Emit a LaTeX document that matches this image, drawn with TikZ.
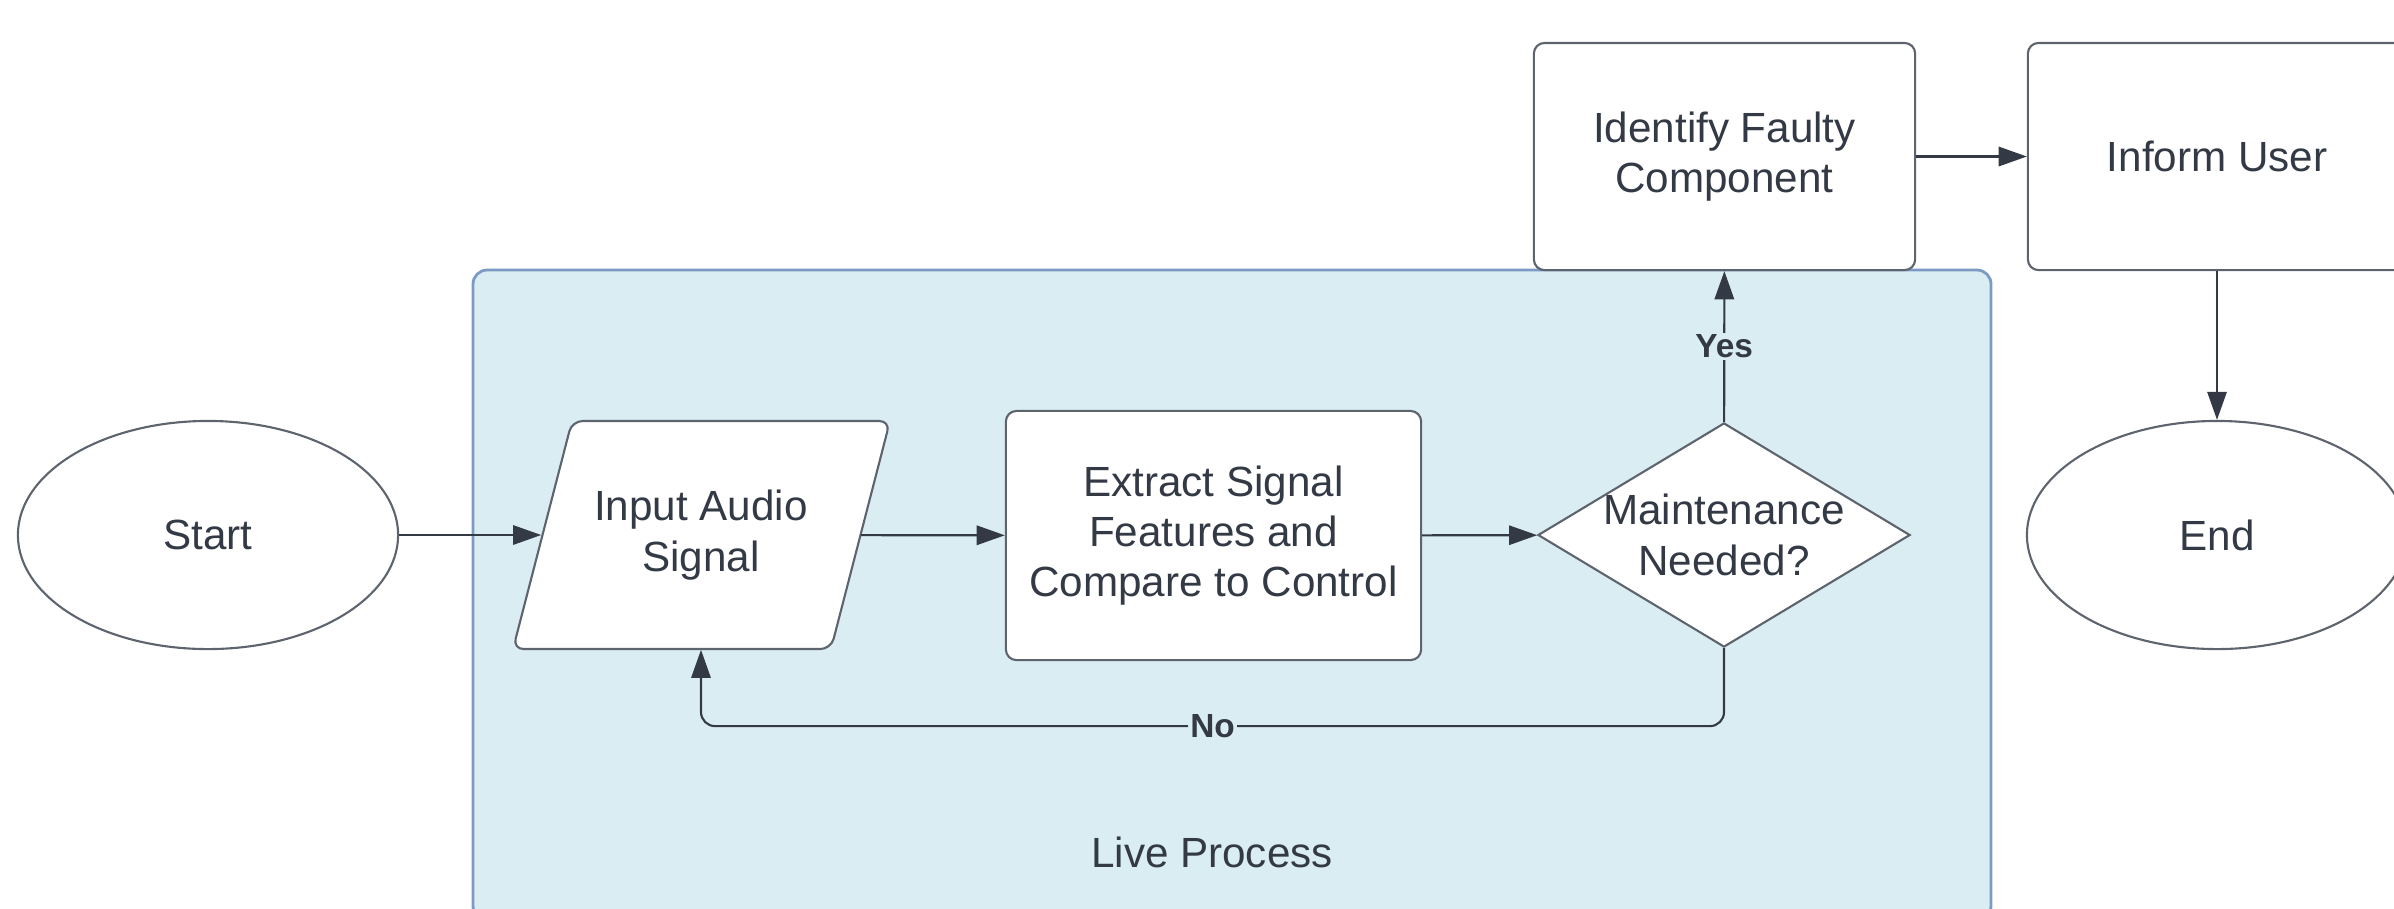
\documentclass[tikz,border=0pt]{standalone}
\usepackage{fontspec}
\setmainfont{Liberation Sans}
\usetikzlibrary{shapes.geometric,arrows.meta}
\definecolor{txt}{HTML}{333A45}
\definecolor{edge}{HTML}{5E646D}
\definecolor{livefill}{HTML}{DAEDF3}
\definecolor{liveedge}{HTML}{7B9BC4}
\begin{document}
\begin{tikzpicture}[x=0.01cm, y=-0.01cm,
    every node/.style={text=txt, font=\fontsize{12}{14.3}\selectfont, align=center},
    outline/.style={draw=edge, line width=0.6pt, fill=white},
    term/.style={outline, ellipse, inner sep=0pt, minimum width=3.8cm, minimum height=2.28cm},
    io/.style={rectangle, inner sep=0pt, minimum width=3.18cm, minimum height=2.28cm},
    proc/.style={outline, rectangle, rounded corners=3pt, inner sep=0pt},
    decide/.style={outline, diamond, aspect=1.66, inner sep=-5pt,
        minimum width=3.72cm, minimum height=2.24cm},
    arr/.style={draw=txt, line width=0.6pt, -{Triangle[length=8pt,width=5.5pt]}},
    lbl/.style={font=\fontsize{9.5}{11}\selectfont\bfseries, fill=livefill, inner sep=0.6pt}]
    \useasboundingbox (0,0) rectangle (2394,908);

    % live process frame
    \draw[draw=liveedge, fill=livefill, line width=0.8pt, rounded corners=4pt] (473,270) rectangle (1991,920);
    \node (live) at (1212,852) {Live Process};

    \node[term] (start) at (208,535) {Start};
    % slanted input box, text node on top
    \draw[outline, rounded corners=3pt] (701,535) ++(-188,114) -- ++(318,0) -- ++(59,-228) -- ++(-318,0) -- cycle;
    \node[io] (inp) at (701,535) {Input Audio\\Signal};
    \node[proc, minimum width=4.15cm, minimum height=2.49cm] (feat) at (1213.5,535.5) {Extract Signal\\Features and\\Compare to Control};
    \node[decide] (maint) at (1724,535) {Maintenance\\Needed?};
    \node[proc, minimum width=3.81cm, minimum height=2.27cm] (ident) at (1724.5,156.5) {Identify Faulty\\Component};
    \node[proc, minimum width=3.78cm, minimum height=2.27cm] (inform) at (2217,156.5) {Inform User};
    \node[term] (end) at (2217,535) {End};

    \draw[arr] (start) -- (inp);
    \draw[arr] (inp) -- (feat);
    \draw[arr] (feat) -- (maint);
    \draw[arr] (maint) -- node[lbl] {Yes} (ident);
    \draw[arr] (ident) -- (inform);
    \draw[arr] (inform) -- (end);
    \draw[arr, rounded corners=4pt] (maint.south) -- ++(0,78) -| node[lbl, pos=0.25] {No} (inp);
\end{tikzpicture}
\end{document}
